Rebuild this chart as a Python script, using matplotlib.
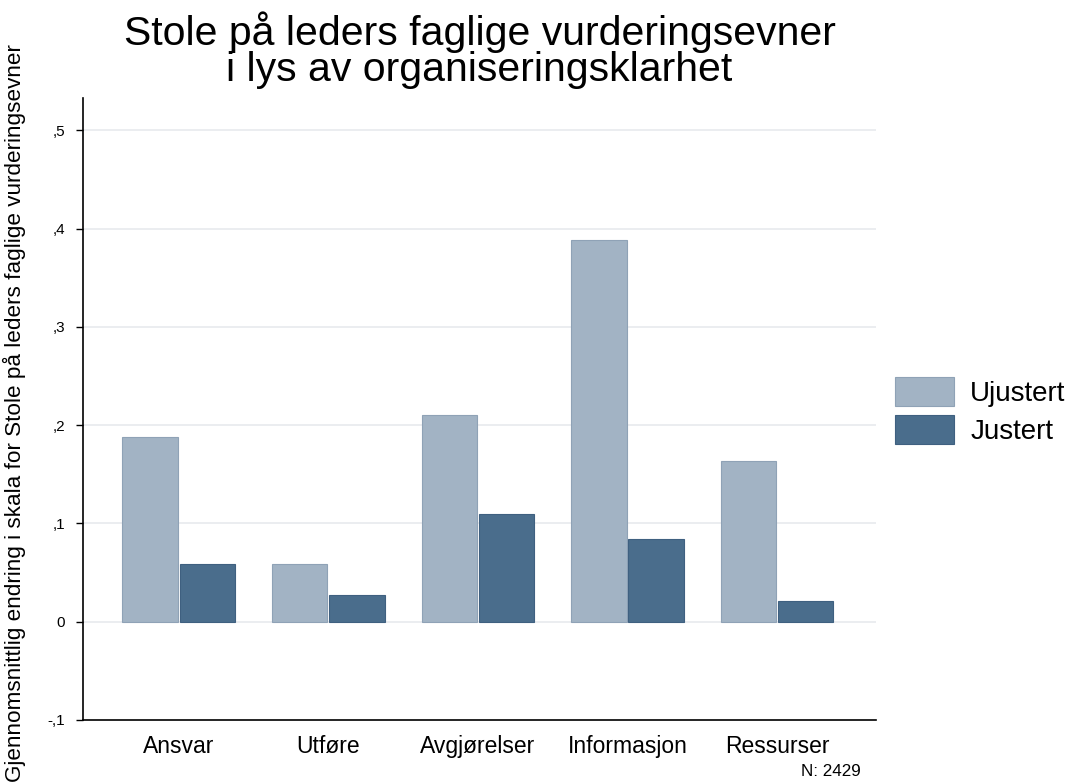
import matplotlib
matplotlib.use("Agg")
import matplotlib.pyplot as plt
import numpy as np

categories = ["Ansvar", "Utføre", "Avgjørelser", "Informasjon", "Ressurser"]
ujustert = [0.188, 0.059, 0.210, 0.388, 0.164]
justert = [0.059, 0.027, 0.110, 0.084, 0.021]
yticks = [-0.1, 0, 0.1, 0.2, 0.3, 0.4, 0.5]
yticklabels = ["-,1", "0", ",1", ",2", ",3", ",4", ",5"]

plt.rcParams['font.family'] = ['Liberation Sans', 'DejaVu Sans']

fig = plt.figure(figsize=(10.75, 7.82), dpi=100)
ax = fig.add_axes([0.0772, 0.0793, 0.8148 - 0.0772, 0.8747 - 0.0793])

x = np.arange(len(categories))
w = 0.37
light = "#a2b3c4"
dark = "#4a6d8c"
ax.bar(x - w/2 - 0.006, ujustert, w, color=light, edgecolor="#8fa2b6", linewidth=0.8, label="Ujustert", zorder=3)
ax.bar(x + w/2 + 0.006, justert, w, color=dark, edgecolor="#3f6080", linewidth=0.8, label="Justert", zorder=3)

ax.set_xlim(-0.64, 4.66)
ax.set_ylim(-0.1, 0.533)
ax.set_yticks(yticks)
ax.set_yticklabels(yticklabels, fontsize=11)
ax.set_xticks(x)
ax.set_xticklabels(categories, fontsize=16.5)
ax.tick_params(axis='x', length=0, pad=11)
ax.tick_params(axis='y', length=5, width=1, direction='out', pad=8)
for yt in yticks[1:]:
    ax.axhline(yt, color="#e8eaee", linewidth=1.2, zorder=1)
for s in ["top", "right"]:
    ax.spines[s].set_visible(False)
ax.spines["left"].set_linewidth(1.2)
ax.spines["bottom"].set_linewidth(1.2)

fig.text(3/1075, 1 - 413/782, "Gjennomsnittlig endring i skala for Stole på leders faglige vurderingsevner",
         rotation=90, ha="left", va="center", fontsize=16.2)

fig.suptitle("Stole på leders faglige vurderingsevner\ni lys av organiseringsklarhet", fontsize=29.5,
             x=0.446, y=0.985, va='top', linespacing=0.92)

leg = ax.legend(loc="center left", bbox_to_anchor=(0.993, 0.497), frameon=False, fontsize=20,
                handlelength=2.1, handleheight=1.25, labelspacing=0.3, handletextpad=0.6)

fig.text(0.773, 0.008, "N: 2429", fontsize=12.3, ha="center")

fig.savefig("out.png", dpi=100)
